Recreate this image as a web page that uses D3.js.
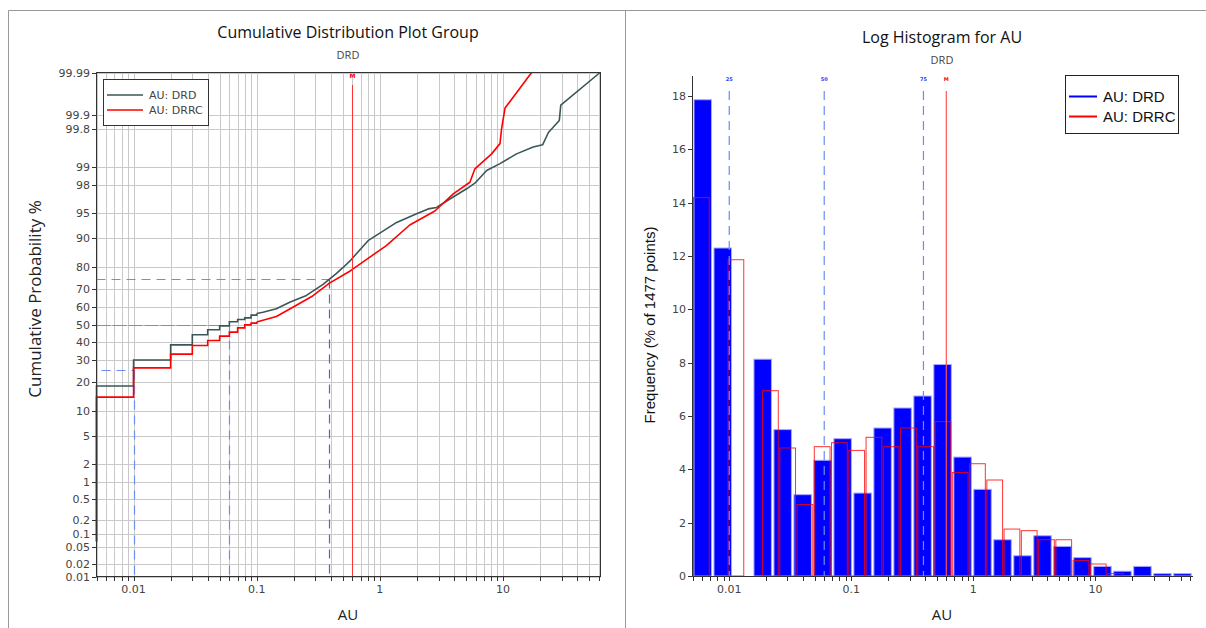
<!DOCTYPE html>
<head>
  <meta charset="utf-8">
  <title>AU distribution</title>
  <style>
    body { margin: 0; background: #fff; }
    .tick-label { font: 11px "DejaVu Sans", sans-serif; fill: #444; }
    .title { font: 16px "Open Sans", sans-serif; fill: #111; text-anchor: middle; }
    .subtitle { font: 11px "Open Sans", sans-serif; fill: #444; text-anchor: middle; }
    .axis-title { font: 15px "Open Sans", sans-serif; fill: #222; text-anchor: middle; }
    .grid line { stroke: #c9c9c9; stroke-width: 1px; }
  </style>
</head>
<body>
  <div id="chart"></div>
  <script src="https://d3js.org/d3.v7.min.js"></script>
  <script>
    // cumulative curves (AU value, cumulative %)
    var drdStepAU   = [0.005, 0.005, 0.01, 0.02, 0.03, 0.04, 0.05, 0.06, 0.07, 0.08, 0.09, 0.1];
    var drdStepPct  = [0.068, 18.2, 30, 38.2, 44, 46.9, 49.2, 51.6, 52.9, 53.9, 55.5, 56.5];
    var drdCurveAU  = [0.1, 0.1125, 0.1445, 0.1854, 0.2535, 0.346, 0.392, 0.445, 0.503, 0.57, 0.803, 1.37, 1.99, 2.47, 2.89, 3.71, 5.07, 5.92, 7.37, 9.46, 12.9, 17.6, 21.0, 23.4, 28.7, 29.5, 61.5];
    var drdCurvePct = [56.5, 57.2, 59.2, 62.9, 66.6, 72.3, 75.0, 77.5, 80.0, 82.5, 89.2, 93.4, 94.9, 95.6, 95.8, 96.8, 97.74, 98.15, 98.85, 99.12, 99.41, 99.56, 99.6, 99.77, 99.87, 99.94, 99.99];

    var drrcStepAU   = [0.005, 0.005, 0.01, 0.02, 0.03, 0.04, 0.05, 0.06, 0.07, 0.08, 0.09, 0.1];
    var drrcStepPct  = [0.068, 14.2, 26.1, 33.1, 37.8, 40.7, 43.2, 45.5, 48, 49.8, 50.8, 51.5];
    var drrcCurveAU  = [0.1, 0.1445, 0.2, 0.28, 0.39, 0.57, 0.607, 1.13, 1.75, 2.8, 3.95, 5.39, 5.92, 8.09, 9.46, 9.76, 10.4, 17.1];
    var drrcCurvePct = [51.5, 54.7, 60.3, 66, 72.9, 78.4, 79.4, 87.8, 92.9, 95.3, 97.3, 98.21, 98.92, 99.41, 99.62, 99.81, 99.93, 99.99];

    var probTicks = [0.01, 0.02, 0.05, 0.1, 0.2, 0.5, 1, 2, 5, 10, 20, 30, 40, 50, 60, 70, 80, 90, 95, 98, 99, 99.8, 99.9, 99.99];
    var logTickLabels = [0.01, 0.1, 1, 10];

    // quartiles and mean
    var quartileNames = ["25", "50", "75"];
    var quartileAU = [0.01, 0.06, 0.39];
    var quartilePct = [25, 50, 75];
    var meanAU = 0.6;

    // histogram frequencies (% of points), 25 log bins per group
    var drdRange = [0.005, 62];
    var drrcRange = [0.005, 17.1];
    var drdFreq  = [17.86, 12.3, 0, 8.13, 5.49, 3.05, 4.34, 5.15, 3.11, 5.55, 6.3, 6.75, 7.93, 4.46, 3.25, 1.36, 0.76, 1.51, 1.11, 0.69, 0.36, 0.18, 0.36, 0.09, 0.09];
    var drrcFreq = [14.19, 0, 11.86, 0, 6.95, 4.8, 2.68, 4.85, 5.0, 4.71, 5.2, 4.85, 5.55, 4.85, 5.79, 3.88, 4.21, 3.6, 1.76, 1.7, 1.36, 1.36, 0.58, 0.45, 0.09];
    var freqTicks = [0, 2, 4, 6, 8, 10, 12, 14, 16, 18];

    var seriesNames = ["AU: DRD", "AU: DRRC"];
    var drdColor = "#3b5656", drrcColor = "#ff0000";

    var width = 1206, height = 628;

    var svg = d3.select("#chart").append("svg")
        .attr("width", width)
        .attr("height", height);

    // inverse normal cdf (Acklam)
    function probit(p) {
      var a = [-3.969683028665376e+01, 2.209460984245205e+02, -2.759285104469687e+02, 1.383577518672690e+02, -3.066479806614716e+01, 2.506628277459239e+00];
      var b = [-5.447609879822406e+01, 1.615858368580409e+02, -1.556989798598866e+02, 6.680131188771972e+01, -1.328068155288572e+01];
      var c = [-7.784894002430293e-03, -3.223964580411365e-01, -2.400758277161838e+00, -2.549732539343734e+00, 4.374664141464968e+00, 2.938163982698783e+00];
      var d = [7.784695709041462e-03, 3.224671290700398e-01, 2.445134137142996e+00, 3.754408661907416e+00];
      var q, r;
      if (p < 0.02425) {
        q = Math.sqrt(-2 * Math.log(p));
        return (((((c[0]*q+c[1])*q+c[2])*q+c[3])*q+c[4])*q+c[5]) / ((((d[0]*q+d[1])*q+d[2])*q+d[3])*q+1);
      }
      if (p > 1 - 0.02425) {
        q = Math.sqrt(-2 * Math.log(1 - p));
        return -(((((c[0]*q+c[1])*q+c[2])*q+c[3])*q+c[4])*q+c[5]) / ((((d[0]*q+d[1])*q+d[2])*q+d[3])*q+1);
      }
      q = p - 0.5; r = q * q;
      return (((((a[0]*r+a[1])*r+a[2])*r+a[3])*r+a[4])*r+a[5])*q / (((((b[0]*r+b[1])*r+b[2])*r+b[3])*r+b[4])*r+1);
    }

    // panel frame
    svg.append("line").attr("x1", 8.5).attr("x2", width).attr("y1", 10.5).attr("y2", 10.5).attr("stroke", "#999");
    svg.append("line").attr("x1", 8.5).attr("x2", 8.5).attr("y1", 10.5).attr("y2", height).attr("stroke", "#999");
    svg.append("line").attr("x1", 625.5).attr("x2", 625.5).attr("y1", 10.5).attr("y2", height).attr("stroke", "#999");

    // ---------- left: cumulative distribution ----------
    var lx = d3.scaleLog().domain([0.005, 62]).range([96.5, 600.5]);
    var lz = d3.scaleLinear().domain([probit(0.0001), probit(0.9999)]).range([576.5, 72.5]);
    function ly(pct) { return lz(probit(pct / 100)); }

    var left = svg.append("g");
    left.append("text").attr("class", "title").attr("x", 348).attr("y", 38).text("Cumulative Distribution Plot Group");
    left.append("text").attr("class", "subtitle").attr("x", 348).attr("y", 59).text("DRD");

    var grid = left.append("g").attr("class", "grid");
    grid.selectAll(".vg").data(lx.ticks()).enter().append("line")
        .attr("x1", function(d) { return Math.round(lx(d)) + 0.5; })
        .attr("x2", function(d) { return Math.round(lx(d)) + 0.5; })
        .attr("y1", 72.5).attr("y2", 576.5);
    grid.selectAll(".hg").data(probTicks).enter().append("line")
        .attr("x1", 96.5).attr("x2", 600.5)
        .attr("y1", function(d) { return Math.round(ly(d)) + 0.5; })
        .attr("y2", function(d) { return Math.round(ly(d)) + 0.5; });

    // quartile guides
    var qColors = ["#6a8cf5", "#6a8cf5", "#4f66c8"];
    quartileAU.forEach(function(v, i) {
      var xq = Math.round(lx(v)) + 0.5, yq = Math.round(ly(quartilePct[i])) + 0.5;
      left.append("line")
          .attr("x1", 96.5).attr("x2", xq)
          .attr("y1", yq).attr("y2", yq)
          .attr("stroke", "#6a8cf5").attr("stroke-dasharray", i == 1 ? "14,2" : "9,6")
          .attr("stroke-dashoffset", i == 0 ? -5 : 0);
      left.append("line")
          .attr("x1", xq).attr("x2", xq)
          .attr("y1", yq).attr("y2", 576.5)
          .attr("stroke", qColors[i]).attr("stroke-width", 1.2).attr("stroke-dasharray", "9,6");
    });

    var line = d3.line().x(function(d) { return lx(d[0]); }).y(function(d) { return ly(d[1]); });
    var stepLine = d3.line().curve(d3.curveStepAfter).x(function(d) { return lx(d[0]); }).y(function(d) { return ly(d[1]); });

    function drawCdf(stepAU, stepPct, curveAU, curvePct, color) {
      left.append("path").datum(d3.zip(stepAU, stepPct))
          .attr("d", stepLine).attr("fill", "none").attr("stroke", color).attr("stroke-width", 1.6);
      left.append("path").datum(d3.zip(curveAU, curvePct))
          .attr("d", line).attr("fill", "none").attr("stroke", color).attr("stroke-width", 1.6)
          .attr("stroke-linejoin", "round");
    }
    drawCdf(drdStepAU, drdStepPct, drdCurveAU, drdCurvePct, drdColor);
    drawCdf(drrcStepAU, drrcStepPct, drrcCurveAU, drrcCurvePct, drrcColor);

    // mean
    left.append("line").attr("x1", lx(meanAU)).attr("x2", lx(meanAU)).attr("y1", 85).attr("y2", 576.5)
        .attr("stroke", "#ff3030").attr("stroke-width", 1);
    left.append("text").attr("x", lx(meanAU)).attr("y", 78).attr("text-anchor", "middle")
        .attr("font-family", "DejaVu Sans").attr("font-size", 6).attr("font-weight", "bold")
        .attr("fill", "#ff0000").text("M");

    // frame and ticks
    left.append("rect").attr("x", 96.5).attr("y", 72.5).attr("width", 504).attr("height", 504)
        .attr("fill", "none").attr("stroke", "#333");
    left.selectAll(".ytick").data(probTicks).enter().append("line")
        .attr("x1", 92).attr("x2", 96.5)
        .attr("y1", function(d) { return Math.round(ly(d)) + 0.5; })
        .attr("y2", function(d) { return Math.round(ly(d)) + 0.5; })
        .attr("stroke", "#333");
    left.selectAll(".ylab").data(probTicks).enter().append("text")
        .attr("class", "tick-label").attr("text-anchor", "end")
        .attr("x", 90).attr("y", function(d) { return ly(d) + 4; })
        .text(function(d) { return d; });
    left.selectAll(".xtick").data(lx.ticks()).enter().append("line")
        .attr("x1", function(d) { return Math.round(lx(d)) + 0.5; })
        .attr("x2", function(d) { return Math.round(lx(d)) + 0.5; })
        .attr("y1", 576.5).attr("y2", 581)
        .attr("stroke", "#333");
    left.selectAll(".xlab").data(logTickLabels).enter().append("text")
        .attr("class", "tick-label").attr("text-anchor", "middle")
        .attr("x", function(d) { return lx(d); }).attr("y", 593)
        .text(function(d) { return d; });

    left.append("text").attr("class", "axis-title").attr("x", 348).attr("y", 620).text("AU");
    left.append("text").attr("class", "axis-title").style("font-size", "17px")
        .attr("transform", "translate(41,299) rotate(-90)").text("Cumulative Probability %");

    // legend
    var lleg = left.append("g");
    lleg.append("rect").attr("x", 103.5).attr("y", 79.5).attr("width", 105).attr("height", 46)
        .attr("fill", "#fff").attr("stroke", "#333");
    [drdColor, drrcColor].forEach(function(col, i) {
      lleg.append("line").attr("x1", 107).attr("x2", 143).attr("y1", 95 + i * 15).attr("y2", 95 + i * 15)
          .attr("stroke", col).attr("stroke-width", 1.5);
      lleg.append("text").attr("class", "tick-label").attr("x", 149).attr("y", 99 + i * 15).text(seriesNames[i]);
    });

    // ---------- right: log histogram ----------
    var rx = d3.scaleLog().domain([0.005, 63]).range([692.5, 1193]);
    var ry = d3.scaleLinear().domain([0, 18.75]).range([576, 76]);

    var right = svg.append("g");
    right.append("text").attr("class", "title").attr("x", 942).attr("y", 43).text("Log Histogram for AU");
    right.append("text").attr("class", "subtitle").attr("x", 942).attr("y", 64).text("DRD");

    function bins(range, freq) {
      var lo = Math.log10(range[0]), hi = Math.log10(range[1]), n = freq.length;
      return freq.map(function(f, i) {
        return { lo: Math.pow(10, lo + i * (hi - lo) / n), hi: Math.pow(10, lo + (i + 1) * (hi - lo) / n), f: f };
      }).filter(function(b) { return b.f > 0; });
    }

    right.selectAll(".bar-drd").data(bins(drdRange, drdFreq)).enter().append("rect")
        .attr("x", function(d) { return rx(d.lo) + 1.5; })
        .attr("y", function(d) { return ry(d.f); })
        .attr("width", function(d) { return rx(d.hi) - rx(d.lo) - 2.5; })
        .attr("height", function(d) { return ry(0) - ry(d.f); })
        .attr("fill", "#0000ff").attr("stroke", "#a8a8ff").attr("stroke-width", 1);

    right.selectAll(".bar-drrc").data(bins(drrcRange, drrcFreq)).enter().append("rect")
        .attr("x", function(d) { return rx(d.lo) + 1; })
        .attr("y", function(d) { return ry(d.f); })
        .attr("width", function(d) { return rx(d.hi) - rx(d.lo) - 1.5; })
        .attr("height", function(d) { return ry(0) - ry(d.f); })
        .attr("fill", "none").attr("stroke", "#ff0000").attr("stroke-opacity", 0.8).attr("stroke-width", 1);

    // quartile and mean markers
    quartileAU.forEach(function(v, i) {
      right.append("line").attr("x1", rx(v)).attr("x2", rx(v)).attr("y1", 91).attr("y2", 576)
          .attr("stroke", "#6a8cf5").attr("stroke-width", 1.2).attr("stroke-dasharray", "9,6");
      right.append("text").attr("x", rx(v)).attr("y", 81).attr("text-anchor", "middle")
          .attr("font-family", "DejaVu Sans").attr("font-size", 5).attr("font-weight", "bold")
          .attr("fill", "#2040ff").text(quartileNames[i]);
    });
    right.append("line").attr("x1", rx(meanAU)).attr("x2", rx(meanAU)).attr("y1", 91).attr("y2", 576)
        .attr("stroke", "#ff5050").attr("stroke-width", 1.2);
    right.append("text").attr("x", rx(meanAU)).attr("y", 81).attr("text-anchor", "middle")
        .attr("font-family", "DejaVu Sans").attr("font-size", 5).attr("font-weight", "bold")
        .attr("fill", "#ff0000").text("M");

    // axes
    right.append("line").attr("x1", 692.5).attr("x2", 692.5).attr("y1", 76).attr("y2", 576.5).attr("stroke", "#333");
    right.append("line").attr("x1", 692.5).attr("x2", 1193).attr("y1", 576.5).attr("y2", 576.5).attr("stroke", "#333");
    right.selectAll(".ytick").data(freqTicks).enter().append("line")
        .attr("x1", 688).attr("x2", 692.5)
        .attr("y1", function(d) { return Math.round(ry(d)) + 0.5; })
        .attr("y2", function(d) { return Math.round(ry(d)) + 0.5; })
        .attr("stroke", "#333");
    right.selectAll(".ylab").data(freqTicks).enter().append("text")
        .attr("class", "tick-label").attr("text-anchor", "end")
        .attr("x", 686).attr("y", function(d) { return ry(d) + 4; })
        .text(function(d) { return d; });
    right.selectAll(".xtick").data(rx.ticks()).enter().append("line")
        .attr("x1", function(d) { return Math.round(rx(d)) + 0.5; })
        .attr("x2", function(d) { return Math.round(rx(d)) + 0.5; })
        .attr("y1", 576.5).attr("y2", 581)
        .attr("stroke", "#333");
    right.selectAll(".xlab").data(logTickLabels).enter().append("text")
        .attr("class", "tick-label").attr("text-anchor", "middle")
        .attr("x", function(d) { return rx(d); }).attr("y", 593)
        .text(function(d) { return d; });

    right.append("text").attr("class", "axis-title").attr("x", 942).attr("y", 620).text("AU");
    right.append("text").attr("text-anchor", "middle")
        .attr("font-family", "Liberation Sans, Arial, sans-serif").attr("font-size", 15).attr("fill", "#111")
        .attr("transform", "translate(655,325) rotate(-90)").text("Frequency (% of 1477 points)");

    // legend
    var rleg = right.append("g");
    rleg.append("rect").attr("x", 1065.5).attr("y", 75.5).attr("width", 113).attr("height", 58)
        .attr("fill", "#fff").attr("stroke", "#222");
    ["#0000ff", "#ff0000"].forEach(function(col, i) {
      rleg.append("line").attr("x1", 1069).attr("x2", 1097).attr("y1", 96.5 + i * 20).attr("y2", 96.5 + i * 20)
          .attr("stroke", col).attr("stroke-width", 2);
      rleg.append("text").attr("x", 1103).attr("y", 101.5 + i * 20)
          .attr("font-family", "Liberation Sans, Arial, sans-serif").attr("font-size", 15).attr("fill", "#111")
          .text(seriesNames[i]);
    });
  </script>
</body>
